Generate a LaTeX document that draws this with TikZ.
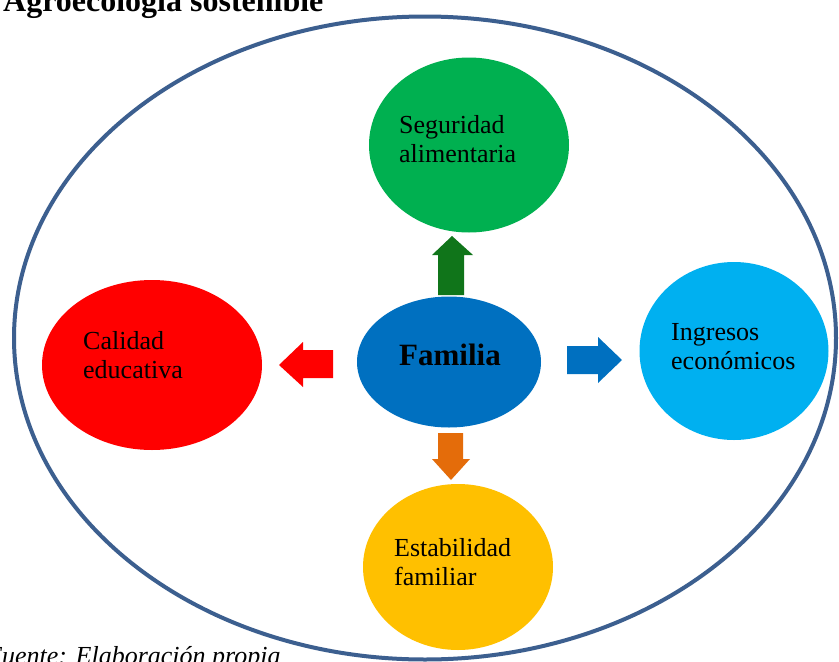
\documentclass[tikz,border=0pt]{standalone}
\usepackage{fontspec}
\setmainfont{Liberation Serif}
\usetikzlibrary{shapes.geometric}
\definecolor{ringc}{RGB}{60,95,143}
\definecolor{segc}{RGB}{0,176,80}
\definecolor{segarr}{RGB}{16,117,26}
\definecolor{calc}{RGB}{255,0,0}
\definecolor{famc}{RGB}{0,112,192}
\definecolor{ingc}{RGB}{0,176,240}
\definecolor{estc}{RGB}{255,192,0}
\definecolor{estarr}{RGB}{228,108,10}
\tikzset{
  blob/.style={ellipse, inner sep=0pt, draw=none},
  lbl/.style={anchor=base west, align=left, inner sep=0pt, font=\fontsize{26}{29}\selectfont},
}
\begin{document}
\begin{tikzpicture}[x=1pt,y=-1pt]
\useasboundingbox (0,0) rectangle (839,662);
\clip (0,0) rectangle (839,662);
\fill[white] (0,0) rectangle (839,662);
% outer ring
\node[ellipse, draw=ringc, line width=4pt, minimum width=822pt, minimum height=643pt, inner sep=0pt] (ring) at (425,338) {};
% ellipses
\node[blob, fill=segc, minimum width=200pt, minimum height=175pt] (seg) at (469,145) {};
\node[blob, fill=calc, minimum width=220pt, minimum height=170pt] (cal) at (152,365) {};
\node[blob, fill=famc, minimum width=184pt, minimum height=131pt] (fam) at (449,362) {};
\node[blob, fill=ingc, minimum width=189pt, minimum height=178pt] (ing) at (734,351) {};
\node[blob, fill=estc, minimum width=190pt, minimum height=166pt] (est) at (458,567) {};
% labels (anchor is baseline of last line)
\node[lbl] (segt) at (399,162) {Seguridad\\alimentaria};
\node[lbl] (calt) at (83,378) {Calidad\\educativa};
\node[lbl] (ingt) at (671,369) {Ingresos\\económicos};
\node[lbl] (estt) at (394,585) {Estabilidad\\familiar};
\node[anchor=base west, inner sep=0pt, font=\fontsize{31}{36}\selectfont\bfseries] (famt) at (399,365) {Familia};
% block arrows
\fill[segarr] (438,295) -- (438,255) -- (432,255) -- (452,236) -- (473,255) -- (464,255) -- (464,295) -- cycle;
\fill[calc] (333,350) -- (303,350) -- (303,342) -- (279,365) -- (303,387) -- (303,378) -- (333,378) -- cycle;
\fill[famc] (567,346) -- (598,346) -- (598,337) -- (622,360) -- (598,383) -- (598,374) -- (567,374) -- cycle;
\fill[estarr] (438,433) -- (463,433) -- (463,459) -- (470,459) -- (451,480) -- (432,459) -- (438,459) -- cycle;
% title and source
\node[anchor=base west, inner sep=0pt, font=\fontsize{32}{36}\selectfont\bfseries] (title) at (3,11) {Agroecología sostenible};
\node[anchor=base west, inner sep=0pt, font=\fontsize{26}{30}\selectfont\itshape] (src) at (-14,664) {Fuente: Elaboración propia};
\end{tikzpicture}
\end{document}
